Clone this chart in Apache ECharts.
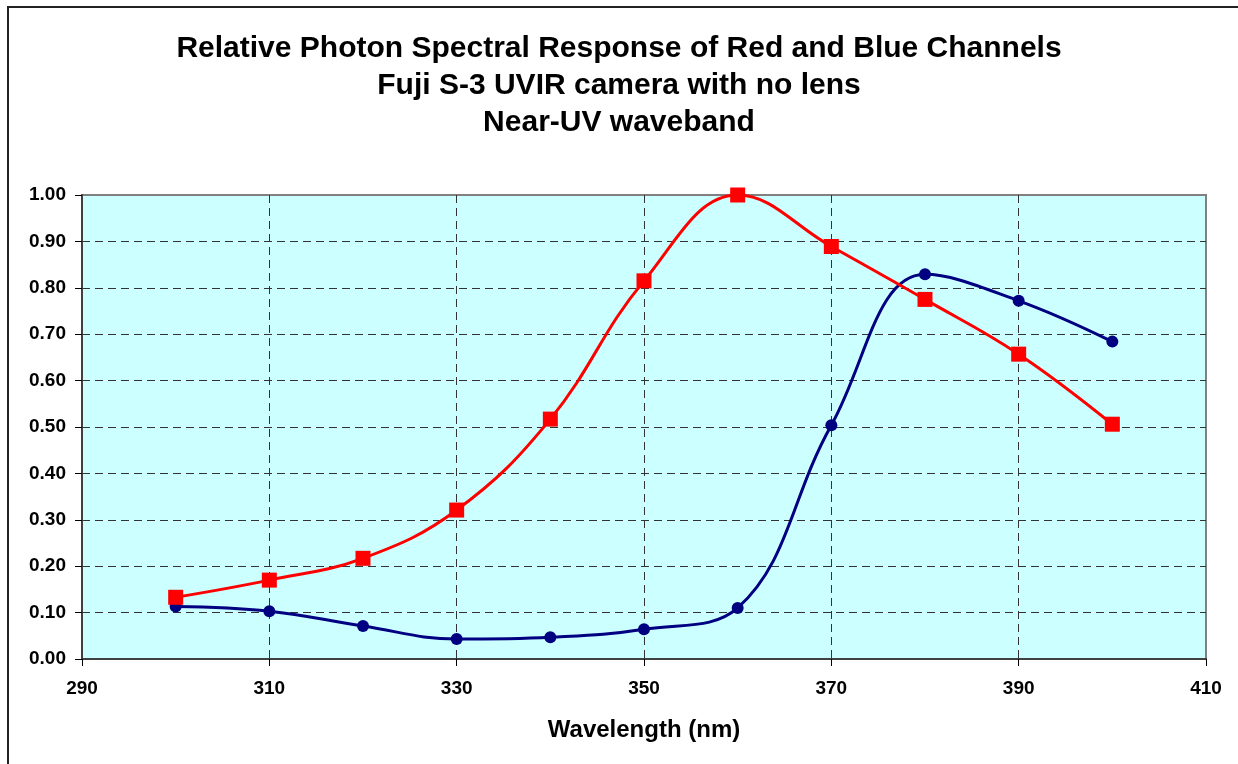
<!DOCTYPE html>
<html>
<head>
<meta charset="utf-8">
<title>Relative Photon Spectral Response</title>
<script src="https://cdn.jsdelivr.net/npm/echarts@6/dist/echarts.min.js"></script>
<style>
  html, body { margin: 0; padding: 0; background: #fff; }
  #chart { width: 1238px; height: 764px; }
</style>
</head>
<body>
<div id="chart"></div>
<script>
// wavelengths (nm) and relative photon response
const wavelengths = [300, 310, 320, 330, 340, 350, 360, 370, 380, 390, 400]
const redValues = [0.133, 0.170, 0.217, 0.321, 0.517, 0.815, 1.000, 0.889, 0.775, 0.657, 0.506]
const blueValues = [0.113, 0.103, 0.071, 0.043, 0.047, 0.064, 0.110, 0.504, 0.829, 0.772, 0.684]
const titleLines = [
  'Relative Photon Spectral Response of Red and Blue Channels',
  'Fuji S-3 UVIR camera with no lens',
  'Near-UV waveband'
]

const font = '"Liberation Sans", Arial, sans-serif'
const chart = echarts.init(document.getElementById('chart'))

const pairs = (ys) => wavelengths.map((x, i) => [x, ys[i]])
const dashed = { color: '#333', width: 1, type: [8, 5] }

chart.setOption({
  animation: false,
  backgroundColor: '#fff',
  textStyle: { fontFamily: font },
  title: {
    text: titleLines.join('\n'),
    left: 'center',
    top: 30,
    padding: [0, 0, 0, 12],
    textStyle: { fontFamily: font, fontSize: 30, fontWeight: 'bold', color: '#000', lineHeight: 37 }
  },
  graphic: [{
    type: 'rect',
    shape: { x: 8, y: 7, width: 1240, height: 770 },
    style: { fill: 'none', stroke: '#222', lineWidth: 2 },
    z: 100
  }],
  grid: {
    left: 82, right: 32, top: 195, bottom: 105,
    show: true, backgroundColor: '#CCFFFF', borderColor: '#808080', borderWidth: 2
  },
  xAxis: {
    type: 'value', min: 290, max: 410, interval: 20,
    name: 'Wavelength (nm)', nameLocation: 'middle', nameGap: 59,
    nameTextStyle: { fontFamily: font, fontSize: 24, fontWeight: 'bold', color: '#000' },
    axisLine: { lineStyle: { color: '#404040', width: 2 } },
    axisTick: { show: true, length: 7, lineStyle: { color: '#000', width: 1 } },
    axisLabel: { margin: 20, fontFamily: font, fontSize: 19, fontWeight: 'bold', color: '#000' },
    splitLine: { show: true, showMinLine: false, showMaxLine: false, lineStyle: dashed }
  },
  yAxis: {
    type: 'value', min: 0, max: 1, interval: 0.1,
    axisLine: { show: true, lineStyle: { color: '#404040', width: 2 } },
    axisTick: { show: true, length: 7, lineStyle: { color: '#000', width: 1 } },
    axisLabel: { margin: 16, fontFamily: font, fontSize: 19, fontWeight: 'bold', color: '#000', formatter: (v) => v.toFixed(2) },
    splitLine: { show: true, showMinLine: false, showMaxLine: false, lineStyle: dashed }
  },
  series: [
    {
      name: 'Blue', type: 'line', smooth: 0.4,
      data: pairs(blueValues),
      symbol: 'circle', symbolSize: 12,
      itemStyle: { color: '#000080' },
      lineStyle: { color: '#000080', width: 3 },
      z: 3
    },
    {
      name: 'Red', type: 'line', smooth: 0.4,
      data: pairs(redValues),
      symbol: 'rect', symbolSize: 15,
      itemStyle: { color: '#FF0000' },
      lineStyle: { color: '#FF0000', width: 3 },
      z: 4
    }
  ]
})
</script>
</body>
</html>
